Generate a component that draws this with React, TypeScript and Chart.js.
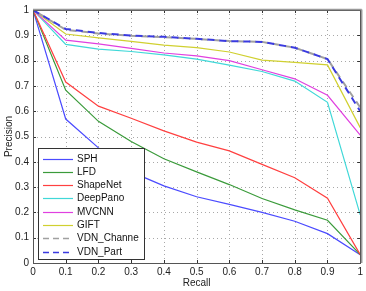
import React, { useEffect, useRef } from "react";
import { Chart, registerables } from "chart.js";
Chart.register(...registerables);

const recall = [0, 0.1, 0.2, 0.3, 0.4, 0.5, 0.6, 0.7, 0.8, 0.9, 1];
const sph = [1, 0.569, 0.455, 0.36, 0.305, 0.262, 0.232, 0.2, 0.165, 0.116, 0.033];
const lfd = [1, 0.683, 0.56, 0.48, 0.412, 0.36, 0.31, 0.255, 0.21, 0.169, 0.033];
const shapeNet = [1, 0.715, 0.62, 0.572, 0.522, 0.478, 0.443, 0.39, 0.337, 0.256, 0.033];
const deepPano = [1, 0.864, 0.845, 0.836, 0.823, 0.806, 0.782, 0.757, 0.719, 0.635, 0.19];
const mvcnn = [1, 0.881, 0.866, 0.848, 0.83, 0.819, 0.8, 0.764, 0.728, 0.663, 0.505];
const gift = [1, 0.905, 0.89, 0.876, 0.861, 0.851, 0.834, 0.802, 0.793, 0.783, 0.535];
const vdnChannel = [1, 0.922, 0.907, 0.898, 0.893, 0.886, 0.877, 0.874, 0.851, 0.806, 0.615];
const vdnPart = [1, 0.925, 0.909, 0.899, 0.894, 0.886, 0.877, 0.874, 0.851, 0.806, 0.6];

const seriesNames = ["SPH", "LFD", "ShapeNet", "DeepPano", "MVCNN", "GIFT", "VDN_Channe", "VDN_Part"];
const seriesValues = [sph, lfd, shapeNet, deepPano, mvcnn, gift, vdnChannel, vdnPart];
const seriesColors = ["#4b4bff", "#3b9b3b", "#ff4040", "#40d8d8", "#e040e0", "#d0d030", "#a0a0a0", "#3a3ae0"];
const seriesDashed = [false, false, false, false, false, false, true, true];
const tickValues = [0, 0.1, 0.2, 0.3, 0.4, 0.5, 0.6, 0.7, 0.8, 0.9, 1];

const FONT = "'Liberation Sans', Arial, sans-serif";
const fmt = (v: number) => String(Math.round(v * 10) / 10);

const gridPlugin = {
  id: "dottedGrid",
  beforeDatasetsDraw(chart: any) {
    const { ctx, chartArea: a, scales } = chart;
    ctx.save();
    ctx.strokeStyle = "#a8a8a8";
    ctx.lineWidth = 1;
    ctx.setLineDash([1, 3]);
    ctx.beginPath();
    tickValues.slice(1, -1).forEach((t) => {
      const px = Math.round(scales.x.getPixelForValue(t)) + 0.5;
      ctx.moveTo(px, a.bottom); ctx.lineTo(px, a.top);
      const py = Math.round(scales.y.getPixelForValue(t)) + 0.5;
      ctx.moveTo(a.left, py); ctx.lineTo(a.right, py);
    });
    ctx.stroke();
    ctx.restore();
  },
};

const framePlugin = {
  id: "frameLegend",
  afterDatasetsDraw(chart: any) {
    const { ctx, chartArea: a, scales } = chart;
    const xs = scales.x, ys = scales.y;
    ctx.save();
    ctx.strokeStyle = "#333";
    ctx.lineWidth = 1;
    ctx.beginPath();
    tickValues.forEach((t) => {
      const px = Math.round(xs.getPixelForValue(t)) + 0.5;
      ctx.moveTo(px, a.bottom); ctx.lineTo(px, a.bottom - 3);
      ctx.moveTo(px, a.top); ctx.lineTo(px, a.top + 3);
      const py = Math.round(ys.getPixelForValue(t)) + 0.5;
      ctx.moveTo(a.left, py); ctx.lineTo(a.left + 3, py);
      ctx.moveTo(a.right, py); ctx.lineTo(a.right - 3, py);
    });
    ctx.stroke();
    ctx.strokeStyle = "#555";
    ctx.lineWidth = 1;
    ctx.strokeRect(Math.round(a.left) + 0.5, Math.round(a.top) + 0.5, Math.round(a.right - a.left), Math.round(a.bottom - a.top));
    ctx.strokeStyle = "#999";
    ctx.lineWidth = 1.5;
    ctx.beginPath();
    ctx.moveTo(a.left, a.top - 0.5); ctx.lineTo(a.right + 1.5, a.top - 0.5);
    ctx.moveTo(a.right + 1.5, a.top - 0.5); ctx.lineTo(a.right + 1.5, a.bottom);
    ctx.stroke();

    const lx = 38.5, ly = 148.5, lw = 106, lh = 111;
    ctx.fillStyle = "#fff";
    ctx.fillRect(lx, ly, lw, lh);
    ctx.strokeStyle = "#333";
    ctx.lineWidth = 1;
    ctx.strokeRect(lx, ly, lw, lh);
    ctx.font = `10px ${FONT}`;
    ctx.textBaseline = "middle";
    ctx.textAlign = "left";
    seriesNames.forEach((name, i) => {
      const y = Math.round(158.5 + i * 13.33) + 0.5;
      ctx.strokeStyle = seriesColors[i];
      ctx.lineWidth = seriesDashed[i] ? 1.5 : 1.2;
      ctx.setLineDash(seriesDashed[i] ? [6, 4] : []);
      ctx.beginPath();
      ctx.moveTo(43, y); ctx.lineTo(73, y);
      ctx.stroke();
      ctx.setLineDash([]);
      ctx.fillStyle = "#111";
      ctx.fillText(name, 77, y);
    });
    ctx.restore();
  },
};

export default function App() {
  const ref = useRef<HTMLCanvasElement>(null);
  useEffect(() => {
    document.body.style.margin = "0";
    const datasets = seriesNames.map((name, i) => ({
      label: name,
      data: recall.map((r, j) => ({ x: r, y: seriesValues[i][j] })),
      borderColor: seriesColors[i],
      backgroundColor: seriesColors[i],
      borderWidth: seriesDashed[i] ? 2 : 1.2,
      borderDash: seriesDashed[i] ? [7, 5] : [],
      borderDashOffset: i === 6 ? 6 : 0,
      pointRadius: 0,
      tension: 0,
      fill: false,
    }));
    const chart = new Chart(ref.current as HTMLCanvasElement, {
      type: "line",
      data: { datasets: datasets.reverse() as any },
      options: {
        animation: false,
        responsive: false,
        devicePixelRatio: 1,
        layout: { padding: { top: 5, right: 4, left: 0, bottom: 0 } },
        plugins: { legend: { display: false }, tooltip: { enabled: false } },
        scales: {
          x: {
            type: "linear",
            min: 0,
            max: 1,
            afterFit: (s: any) => { s.height = 28; },
            ticks: { stepSize: 0.1, callback: (v: any) => fmt(v), font: { family: FONT, size: 10 }, color: "#222", padding: 3, maxRotation: 0, autoSkip: false },
            grid: { display: false, drawTicks: false },
            border: { display: false },
            title: { display: true, text: "Recall", font: { family: FONT, size: 10 }, color: "#222", padding: { top: 0, bottom: 2 } },
          },
          y: {
            type: "linear",
            min: 0,
            max: 1,
            afterFit: (s: any) => { s.width = 33; },
            ticks: { stepSize: 0.1, callback: (v: any) => fmt(v), font: { family: FONT, size: 10 }, color: "#222", padding: 4, autoSkip: false },
            grid: { display: false, drawTicks: false },
            border: { display: false },
            title: { display: true, text: "Precision", font: { family: FONT, size: 10 }, color: "#222", padding: { top: 3, bottom: 0 } },
          },
        },
      },
      plugins: [gridPlugin, framePlugin],
    });
    return () => chart.destroy();
  }, []);
  return (
    <div style={{ position: "fixed", left: 0, top: 0, width: 366, height: 291, background: "#fff" }}>
      <canvas ref={ref} width={366} height={291} style={{ width: 366, height: 291 }} />
    </div>
  );
}
